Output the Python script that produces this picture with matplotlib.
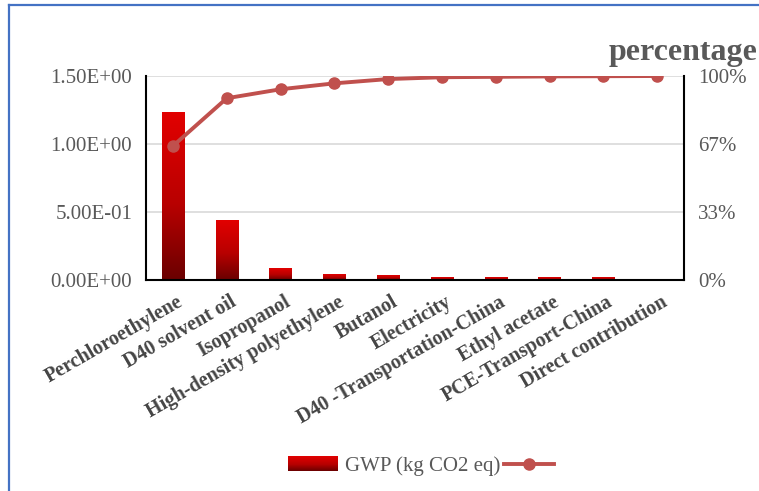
import matplotlib
matplotlib.use('Agg')
import matplotlib.pyplot as plt
import matplotlib.transforms as mtransforms
from matplotlib.colors import LinearSegmentedColormap
from matplotlib.image import BboxImage
from matplotlib.legend_handler import HandlerBase
from matplotlib.lines import Line2D
from matplotlib.patches import Patch
import numpy as np

# contribution of each item to GWP (kg CO2 eq) and the cumulative share
categories = ['Perchloroethylene', 'D40 solvent oil', 'Isopropanol',
              'High-density polyethylene', 'Butanol', 'Electricity',
              'D40 -Transportation-China', 'Ethyl acetate',
              'PCE-Transport-China', 'Direct contribution']
gwp = [1.228, 0.44, 0.088, 0.044, 0.032, 0.015, 0.015, 0.015, 0.015, 0.0]
cum_pct = [0.657, 0.891, 0.935, 0.964, 0.985, 0.994, 0.996, 0.998, 0.999, 1.0]
left_ticks = [0.0, 0.5, 1.0, 1.5]
right_ticks = [0.0, 1 / 3, 2 / 3, 1.0]
right_labels = ['0%', '33%', '67%', '100%']

plt.rcParams['font.family'] = ['Liberation Serif', 'DejaVu Serif']
gray = '#595959'
line_red = '#c0504d'
bar_cmap = LinearSegmentedColormap.from_list(
    'gwp', [(0, '#6a0000'), (0.45, '#b80000'), (1, '#e20000')])
grad = np.linspace(0, 1, 256).reshape(-1, 1)


class GradientHandler(HandlerBase):
    # legend key filled with the same red gradient as the bars
    def create_artists(self, legend, orig_handle, xdescent, ydescent,
                       width, height, fontsize, trans):
        box = mtransforms.Bbox.from_bounds(-xdescent, -ydescent, width, height)
        img = BboxImage(mtransforms.TransformedBbox(box, trans),
                        cmap=bar_cmap, origin='lower', interpolation='bilinear')
        img.set_data(grad)
        return [img]


fig = plt.figure(figsize=(7.59, 4.91), dpi=100)
ax1 = fig.add_axes([0.1924, 0.4297, 0.7088, 0.4155])

x = np.arange(len(categories))
bars = ax1.bar(x, gwp, width=0.41, color='none', zorder=2)

# vertical red gradient inside every bar
for rect in bars:
    h = rect.get_height()
    if h <= 0:
        continue
    x0 = rect.get_x()
    ax1.imshow(grad, extent=(x0, x0 + rect.get_width(), 0, h), origin='lower',
               cmap=bar_cmap, aspect='auto', zorder=2, interpolation='bilinear')

ax1.set_xlim(-0.5, len(categories) - 0.5)
ax1.set_ylim(0, 1.5)
ax1.set_yticks(left_ticks)
ax1.set_yticklabels(['{:.2E}'.format(v) for v in left_ticks])
ax1.yaxis.grid(True, color='#d9d9d9', linewidth=1.2, zorder=0)
ax1.set_axisbelow(True)
ax1.tick_params(axis='y', length=0, pad=10, labelsize=15, labelcolor=gray)

ax1.set_xticks(x)
ax1.set_xticklabels(categories, rotation=30, ha='right', va='center',
                    rotation_mode='anchor', fontsize=14.5, fontweight='bold',
                    color='#454545')
ax1.tick_params(axis='x', length=0, pad=15)
shift = mtransforms.ScaledTranslation(6 / 72, 0, fig.dpi_scale_trans)
for lab in ax1.get_xticklabels():
    lab.set_transform(lab.get_transform() + shift)

for side in ['left', 'bottom']:
    ax1.spines[side].set_linewidth(1.5)
    ax1.spines[side].set_color('black')
ax1.spines['top'].set_visible(False)
ax1.spines['right'].set_visible(False)

ax2 = ax1.twinx()
ax2.plot(x, cum_pct, color=line_red, linewidth=2.8, marker='o',
         markersize=8, solid_capstyle='round')
ax2.set_ylim(0, 1)
ax2.set_yticks(right_ticks)
ax2.set_yticklabels(right_labels)
ax2.tick_params(axis='y', length=0, pad=10, labelsize=15, labelcolor=gray)
ax2.spines['right'].set_linewidth(1.5)
ax2.spines['right'].set_color('black')
for side in ['top', 'left', 'bottom']:
    ax2.spines[side].set_visible(False)

fig.text(0.998, 0.894, 'percentage', ha='right', va='center', fontsize=23,
         fontweight='bold', color=gray)

handles = [Patch(facecolor='#b00000'),
           Line2D([], [], color=line_red, linewidth=2.8, marker='o', markersize=8)]
fig.legend(handles, ['GWP (kg CO2 eq)', ''], loc='center',
           bbox_to_anchor=(0.559, 0.051), ncol=2, frameon=False, fontsize=15,
           labelcolor=gray, handlelength=2.4, handletextpad=0.3,
           columnspacing=0.2, handler_map={Patch: GradientHandler()})

# frame around the chart
fig.add_artist(Line2D([8.5 / 759, 8.5 / 759], [0, 1 - 4.5 / 491],
                      color='#4472c4', linewidth=1.6))
fig.add_artist(Line2D([8.5 / 759, 1], [1 - 4.5 / 491, 1 - 4.5 / 491],
                      color='#4472c4', linewidth=1.6))

fig.savefig('out.png', dpi=100)
